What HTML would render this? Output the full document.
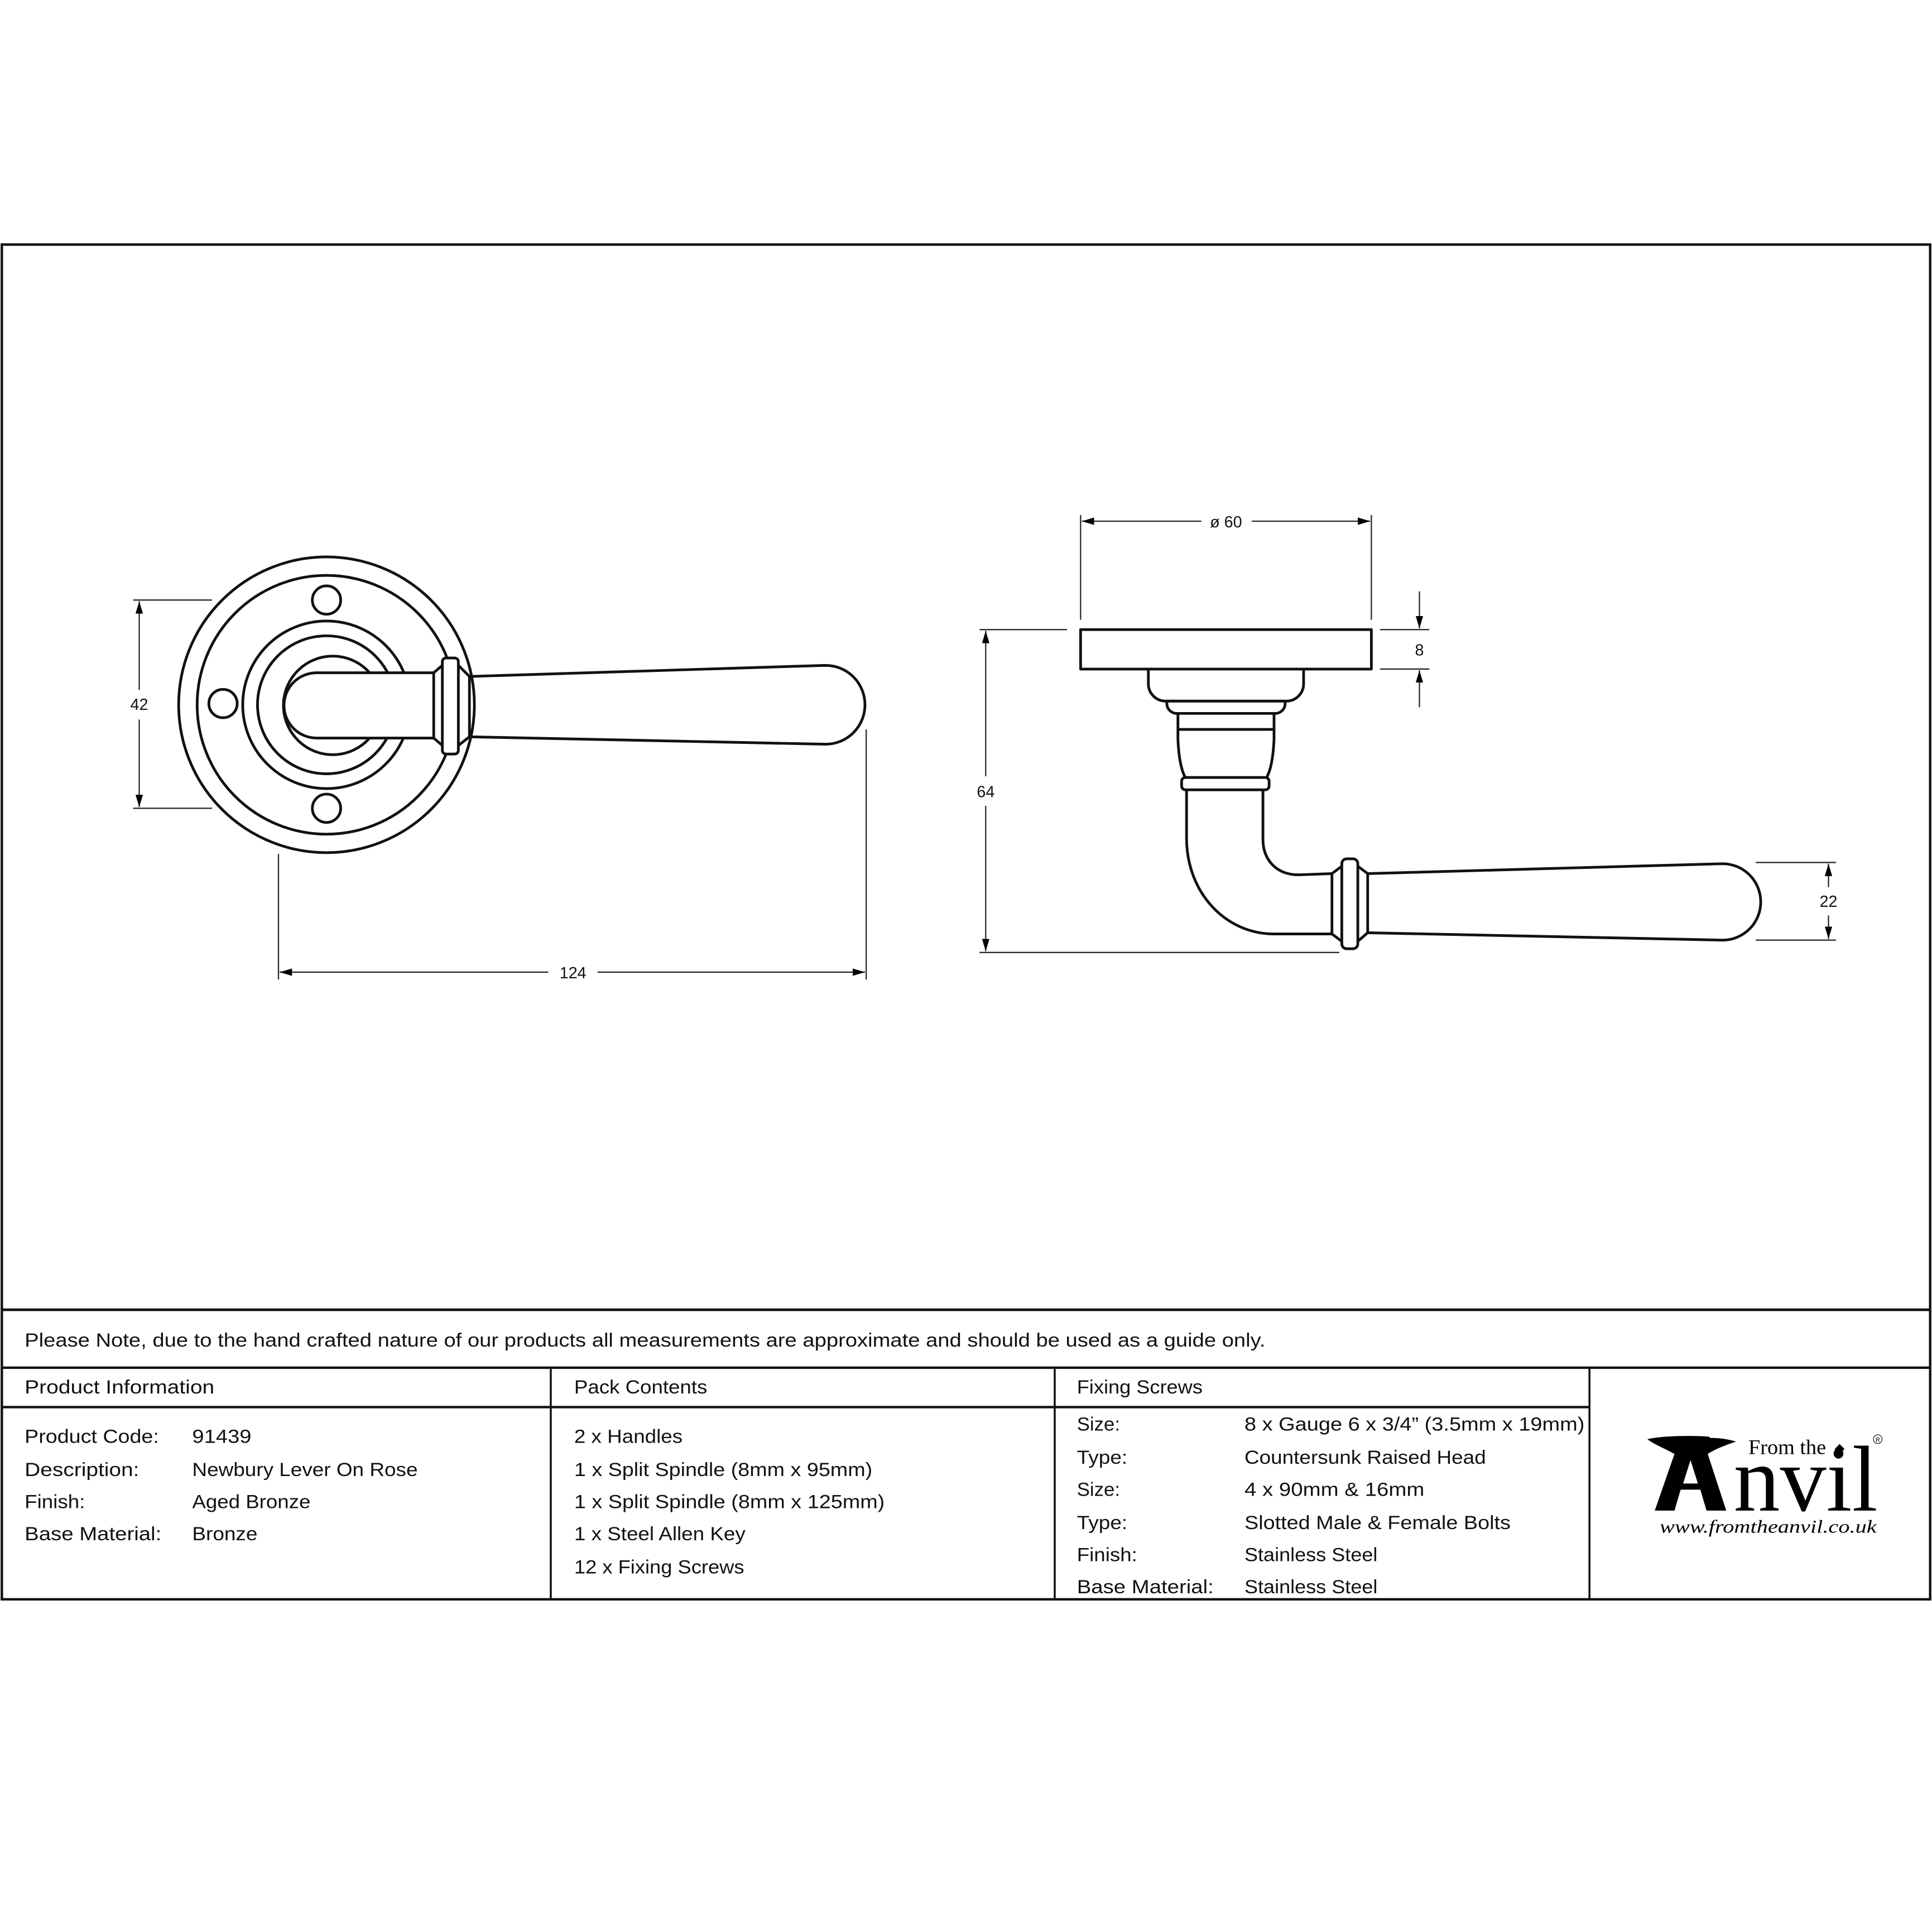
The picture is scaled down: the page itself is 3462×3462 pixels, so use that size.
<!DOCTYPE html>
<html><head><meta charset="utf-8"><style>html,body{margin:0;padding:0;background:#fff}svg{display:block}</style></head>
<body>
<svg xmlns="http://www.w3.org/2000/svg" width="3462" height="3462" viewBox="0 0 1568 1568">
<rect width="1568" height="1568" fill="#fff"/>
<defs>
<marker id="ar" markerWidth="10" markerHeight="6" refX="10" refY="3" orient="auto" markerUnits="userSpaceOnUse"><path d="M0,0 L10,3 L0,6 Z" fill="#000"/></marker>
</defs>
<g fill="none" stroke="#111" stroke-width="2.2" stroke-linejoin="round">
<!-- left view -->
<circle cx="265" cy="572" r="120"/>
<circle cx="265" cy="572" r="105"/>
<circle cx="265" cy="487" r="11.5"/>
<circle cx="181" cy="571" r="11.5"/>
<circle cx="265" cy="656" r="11.5"/>
<circle cx="265" cy="572" r="68"/>
<circle cx="265" cy="572" r="56"/>
<path d="M300,546 A40,40 0 1 0 300,599"/>
<path d="M352,546 L257,546 A26.5,26.5 0 0 0 257,599 L352,599 Z" fill="#fff"/>
<path d="M352,546 L359,540 M352,599 L359,605 M372,540 L381,549 M372,605 L381,598 M381,549 L381,598"/>
<rect x="359" y="534" width="13" height="78" rx="3" fill="#fff"/>
<path d="M381,549 L670,540 A32,32 0 0 1 670,604 L381,598"/>
<!-- right view -->
<rect x="877" y="511" width="236" height="32"/>
<path d="M932,543 L932,555 A14,14 0 0 0 946,569 L1044,569 A14,14 0 0 0 1058,555 L1058,543"/>
<path d="M947,569 L947,571 A8,8 0 0 0 955,579 L1035,579 A8,8 0 0 0 1043,571 L1043,569 Z"/>
<path d="M956,579 L956,600 Q957,622 962,631 M1034,579 L1034,600 Q1033,622 1028,631 M956,592 L1034,592"/>
<rect x="959" y="631" width="71" height="10" rx="3"/>
<path d="M963,641 L963,680 C963,725 995,758 1034,758 L1081,758 M1025,641 L1025,681 C1025,698 1036,710 1054,710 L1081,709"/>
<path d="M1081,709 L1081,758 M1081,709 L1089,703 M1081,758 L1089,764 M1102,703 L1110,709 M1102,764 L1110,757 M1110,709 L1110,757"/>
<rect x="1089" y="697" width="13" height="73" rx="4" fill="#fff"/>
<path d="M1110,709 L1398,701 A31,31 0 0 1 1398,763 L1110,757"/>
</g>
<!-- dimensions -->
<g stroke="#222" stroke-width="1" fill="none">
<path d="M108,487 L172,487 M108,656 L172,656"/>
<path d="M113,560 L113,488" marker-end="url(#ar)"/><path d="M113,584 L113,655" marker-end="url(#ar)"/>
<path d="M226,693 L226,795 M703,592 L703,795"/>
<path d="M445,789 L227,789" marker-end="url(#ar)"/><path d="M485,789 L702,789" marker-end="url(#ar)"/>
<path d="M877,418 L877,503 M1113,418 L1113,503"/>
<path d="M975,423 L878,423" marker-end="url(#ar)"/><path d="M1016,423 L1112,423" marker-end="url(#ar)"/>
<path d="M1120,511 L1160,511 M1120,543 L1160,543"/>
<path d="M1152,480 L1152,510" marker-end="url(#ar)"/><path d="M1152,574 L1152,544" marker-end="url(#ar)"/>
<path d="M795,511 L866,511 M795,773 L1087,773"/>
<path d="M800,630 L800,512" marker-end="url(#ar)"/><path d="M800,654 L800,772" marker-end="url(#ar)"/>
<path d="M1425,700 L1490,700 M1425,763 L1490,763"/>
<path d="M1484,720 L1484,701" marker-end="url(#ar)"/><path d="M1484,743 L1484,762" marker-end="url(#ar)"/>
</g>
<g font-family="Liberation Sans, sans-serif" font-size="13" fill="#111" text-anchor="middle">
<text x="113" y="576">42</text>
<text x="465" y="794">124</text>
<text x="995" y="428">ø 60</text>
<text x="1152" y="532">8</text>
<text x="800" y="647">64</text>
<text x="1484" y="736">22</text>
</g>
<!-- frame & table -->
<g stroke="#111" fill="none">
<rect x="1.5" y="198.5" width="1565" height="1099.5" stroke-width="2"/>
<path d="M1,1063 L1567,1063" stroke-width="2.2"/>
<path d="M1,1110 L1567,1110" stroke-width="2"/>
<path d="M1,1142 L1290,1142" stroke-width="2"/>
<path d="M447,1110 L447,1298 M856,1110 L856,1298 M1290,1110 L1290,1298" stroke-width="1.6"/>
</g>
<g font-family="Liberation Sans, sans-serif" font-size="15.5" fill="#111">
<text x="20" y="1093" textLength="1007" lengthAdjust="spacingAndGlyphs">Please Note, due to the hand crafted nature of our products all measurements are approximate and should be used as a guide only.</text>
<text x="20" y="1131" textLength="154" lengthAdjust="spacingAndGlyphs">Product Information</text>
<text x="466" y="1131" textLength="108" lengthAdjust="spacingAndGlyphs">Pack Contents</text>
<text x="874" y="1131" textLength="102" lengthAdjust="spacingAndGlyphs">Fixing Screws</text>
<text x="20" y="1171" textLength="109" lengthAdjust="spacingAndGlyphs">Product Code:</text>
<text x="20" y="1198" textLength="93" lengthAdjust="spacingAndGlyphs">Description:</text>
<text x="20" y="1224" textLength="49" lengthAdjust="spacingAndGlyphs">Finish:</text>
<text x="20" y="1250" textLength="111" lengthAdjust="spacingAndGlyphs">Base Material:</text>
<text x="156" y="1171" textLength="48" lengthAdjust="spacingAndGlyphs">91439</text>
<text x="156" y="1198" textLength="183" lengthAdjust="spacingAndGlyphs">Newbury Lever On Rose</text>
<text x="156" y="1224" textLength="96" lengthAdjust="spacingAndGlyphs">Aged Bronze</text>
<text x="156" y="1250" textLength="53" lengthAdjust="spacingAndGlyphs">Bronze</text>
<text x="466" y="1171" textLength="88" lengthAdjust="spacingAndGlyphs">2 x Handles</text>
<text x="466" y="1198" textLength="242" lengthAdjust="spacingAndGlyphs">1 x Split Spindle (8mm x 95mm)</text>
<text x="466" y="1224" textLength="252" lengthAdjust="spacingAndGlyphs">1 x Split Spindle (8mm x 125mm)</text>
<text x="466" y="1250" textLength="139" lengthAdjust="spacingAndGlyphs">1 x Steel Allen Key</text>
<text x="466" y="1277" textLength="138" lengthAdjust="spacingAndGlyphs">12 x Fixing Screws</text>
<text x="874" y="1161" textLength="35" lengthAdjust="spacingAndGlyphs">Size:</text>
<text x="874" y="1188" textLength="41" lengthAdjust="spacingAndGlyphs">Type:</text>
<text x="874" y="1214" textLength="35" lengthAdjust="spacingAndGlyphs">Size:</text>
<text x="874" y="1241" textLength="41" lengthAdjust="spacingAndGlyphs">Type:</text>
<text x="874" y="1267" textLength="49" lengthAdjust="spacingAndGlyphs">Finish:</text>
<text x="874" y="1293" textLength="111" lengthAdjust="spacingAndGlyphs">Base Material:</text>
<text x="1010" y="1161" textLength="276" lengthAdjust="spacingAndGlyphs">8 x Gauge 6 x 3/4” (3.5mm x 19mm)</text>
<text x="1010" y="1188" textLength="196" lengthAdjust="spacingAndGlyphs">Countersunk Raised Head</text>
<text x="1010" y="1214" textLength="146" lengthAdjust="spacingAndGlyphs">4 x 90mm &amp; 16mm</text>
<text x="1010" y="1241" textLength="216" lengthAdjust="spacingAndGlyphs">Slotted Male &amp; Female Bolts</text>
<text x="1010" y="1267" textLength="108" lengthAdjust="spacingAndGlyphs">Stainless Steel</text>
<text x="1010" y="1293" textLength="108" lengthAdjust="spacingAndGlyphs">Stainless Steel</text>
</g>
<!-- logo -->
<path fill="#000" fill-rule="evenodd" d="M1337,1168 C1350,1165 1375,1165 1387,1166 L1388,1167 C1395,1167 1403,1168 1409,1170 C1400,1173 1392,1176 1386,1180 L1401,1226 L1385,1226 L1380,1209 L1364,1209 L1359,1226 L1343,1226 L1359,1180 C1350,1175 1342,1172 1337,1168 Z M1366,1204 L1378,1204 L1372,1185 Z"/>
<text x="1407" y="1226" font-family="Liberation Serif, serif" font-size="76" textLength="117" lengthAdjust="spacingAndGlyphs" fill="#000">nvil</text>
<text x="1419" y="1180" font-family="Liberation Serif, serif" font-size="17" textLength="63" lengthAdjust="spacingAndGlyphs" fill="#000">From the</text>
<path d="M1493,1172 L1497,1176 L1493,1180 L1489,1176 Z" fill="#000"/>
<circle cx="1524" cy="1168" r="3.5" fill="none" stroke="#000" stroke-width="0.5"/>
<text x="1524" y="1170" font-family="Liberation Sans, sans-serif" font-size="5" text-anchor="middle" fill="#000">R</text>
<text x="1347" y="1244" font-family="Liberation Serif, serif" font-style="italic" font-size="15" textLength="176" lengthAdjust="spacingAndGlyphs" fill="#000">www.fromtheanvil.co.uk</text>
</svg>
</body></html>
